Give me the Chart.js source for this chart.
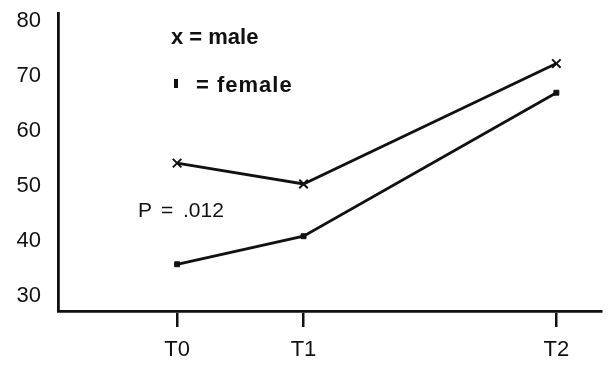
<!DOCTYPE html>
<html>
<head>
<meta charset="utf-8">
<script src="https://cdn.jsdelivr.net/npm/chart.js@4.4.1/dist/chart.umd.min.js"></script>
<style>
  html, body { margin: 0; padding: 0; background: #fff; }
  #wrap { width: 609px; height: 374px; }
</style>
</head>
<body>
<div id="wrap"><canvas id="myChart" width="609" height="374"></canvas></div>
<script>
// data
const timeLabels = ['T0', 'T1', 'T2'];
const timePos = [0, 1, 3];
const maleValues = [54.2, 50.4, 72.3];
const femaleValues = [35.8, 40.9, 67.0];
const yTicks = [30, 40, 50, 60, 70, 80];

function points(vals) {
    var out = [];
    for (let i = 0; i < vals.length; i++) {
        out.push({ x: timePos[i], y: vals[i] });
    }
    return out;
}

const fontFam = "'Liberation Sans', Arial, sans-serif";

// text notes drawn on the canvas (legend + p value)
const notes = {
    id: 'notes',
    afterDraw: function (chart) {
        var ctx = chart.ctx;
        ctx.save();
        ctx.fillStyle = '#111';
        ctx.textBaseline = 'alphabetic';
        ctx.font = 'bold 22px ' + fontFam;
        ctx.fillText('x = male', 171, 44);
        ctx.letterSpacing = '1px';
        ctx.fillText('= female', 196, 92);
        ctx.letterSpacing = '0px';
        ctx.fillRect(174, 79, 4, 9);
        // P value, spaced like the typed original
        ctx.font = '21px ' + fontFam;
        ctx.fillText('P', 138, 217);
        ctx.fillText('=', 161, 217);
        ctx.fillText('.012', 183, 217);
        ctx.restore();
    }
};

function noPad(scale) {
    scale.paddingTop = 0;
    scale.paddingBottom = 0;
    scale.paddingLeft = 0;
    scale.paddingRight = 0;
}

var ctx = document.getElementById('myChart').getContext('2d');
var myChart = new Chart(ctx, {
    type: 'line',
    data: {
        datasets: [
            {
                label: 'male',
                data: points(maleValues),
                borderColor: '#111',
                backgroundColor: '#111',
                borderWidth: 2.8,
                pointStyle: 'crossRot',
                pointRadius: 6,
                pointBorderWidth: 2,
                tension: 0
            },
            {
                label: 'female',
                data: points(femaleValues),
                borderColor: '#111',
                backgroundColor: '#111',
                borderWidth: 2.8,
                pointStyle: 'rect',
                pointRadius: 3.5,
                pointBorderWidth: 1,
                tension: 0
            }
        ]
    },
    options: {
        responsive: false,
        animation: false,
        layout: { padding: { top: 13, right: 4, left: 0, bottom: 0 } },
        plugins: {
            legend: { display: false },
            tooltip: { enabled: false }
        },
        scales: {
            x: {
                type: 'linear',
                min: -0.942,
                max: 3.353,
                afterBuildTicks: function (axis) {
                    axis.ticks = timePos.map(function (v) { return { value: v }; });
                },
                afterFit: function (scale) { scale.height = 63; noPad(scale); },
                border: { display: true, color: '#111', width: 2.8 },
                grid: {
                    drawOnChartArea: false,
                    drawTicks: true,
                    tickLength: 16,
                    color: '#111',
                    lineWidth: 2.5
                },
                ticks: {
                    autoSkip: false,
                    maxRotation: 0,
                    padding: 10,
                    color: '#111',
                    font: { family: fontFam, size: 22 },
                    callback: function (v) {
                        var i = timePos.indexOf(v);
                        return i >= 0 ? timeLabels[i] : '';
                    }
                }
            },
            y: {
                type: 'linear',
                min: 27.3,
                max: 81.5,
                afterBuildTicks: function (axis) {
                    axis.ticks = yTicks.map(function (v) { return { value: v }; });
                },
                afterFit: function (scale) { scale.width = 58; noPad(scale); },
                border: { display: true, color: '#111', width: 2.8 },
                grid: { display: false, drawTicks: false },
                ticks: {
                    padding: 17,
                    color: '#111',
                    font: { family: fontFam, size: 22 }
                }
            }
        }
    },
    plugins: [notes]
});
</script>
</body>
</html>
